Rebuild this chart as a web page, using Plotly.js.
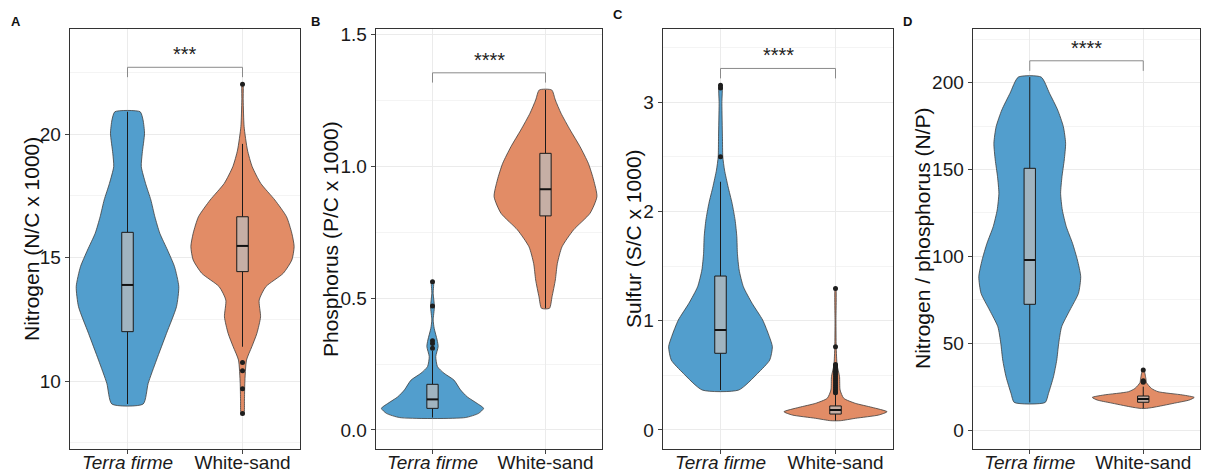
<!DOCTYPE html>
<html><head><meta charset="utf-8">
<script src="https://cdn.plot.ly/plotly-3.0.1.min.js"></script>
<style>html,body{margin:0;padding:0;background:#fff}#chart{width:1208px;height:474px}</style>
</head><body><div id="chart"></div>
<script>
// ---------- data ----------
const categories = ['Terra firme', 'White-sand'];
const tickText = ['<i>Terra firme</i>', 'White-sand'];
const panelLetters = ['A', 'B', 'C', 'D'];
const yTitles = ['Nitrogen (N/C x 1000)', 'Phosphorus (P/C x 1000)', 'Sulfur (S/C x 1000)', 'Nitrogen / phosphorus (N/P)'];
const sigLabels = ['***', '****', '****', '****'];

// violin profiles: value levels (bottom to top) and half-widths (category units)
const nitTF_y = [9.07, 9.91, 10.85, 11.93, 13.01, 13.82, 14.63, 15.30, 15.98, 16.65, 17.33, 18.00, 18.68, 19.22, 20.03, 20.57, 20.90];
const nitTF_w = [0.136, 0.180, 0.252, 0.339, 0.426, 0.446, 0.409, 0.348, 0.281, 0.238, 0.203, 0.157, 0.120, 0.128, 0.148, 0.135, 0.110];
const nitWS_y = [8.69, 9.23, 9.91, 10.85, 11.39, 11.93, 12.60, 13.28, 13.82, 14.36, 14.90, 15.44, 15.98, 16.65, 17.33, 18.00, 18.68, 19.35, 20.30, 21.38, 22.01];
const nitWS_w = [0.012, 0.017, 0.020, 0.035, 0.081, 0.125, 0.157, 0.145, 0.203, 0.354, 0.429, 0.449, 0.429, 0.383, 0.281, 0.159, 0.084, 0.043, 0.014, 0.006, 0.004];

const phoTF_y = [0.047, 0.063, 0.082, 0.101, 0.126, 0.152, 0.189, 0.215, 0.240, 0.278, 0.316, 0.341, 0.385, 0.417, 0.467, 0.518, 0.564];
const phoTF_w = [0.290, 0.408, 0.452, 0.394, 0.306, 0.248, 0.190, 0.102, 0.044, 0.029, 0.050, 0.041, 0.015, 0.006, 0.017, 0.006, 0.009];
const phoWS_y = [0.461, 0.505, 0.568, 0.631, 0.694, 0.758, 0.821, 0.884, 0.947, 1.010, 1.073, 1.136, 1.200, 1.250, 1.288];
const phoWS_w = [0.035, 0.058, 0.087, 0.105, 0.146, 0.248, 0.394, 0.455, 0.426, 0.379, 0.306, 0.219, 0.137, 0.087, 0.055];

const sulTF_y = [0.366, 0.519, 0.640, 0.762, 0.854, 1.006, 1.159, 1.311, 1.464, 1.617, 1.769, 1.921, 2.074, 2.226, 2.379, 2.500, 2.683, 2.989, 3.156];
const sulTF_w = [0.159, 0.324, 0.428, 0.451, 0.425, 0.367, 0.275, 0.199, 0.162, 0.147, 0.142, 0.127, 0.101, 0.066, 0.035, 0.020, 0.017, 0.012, 0.012];
const sulWS_y = [0.085, 0.107, 0.137, 0.167, 0.207, 0.244, 0.290, 0.366, 0.488, 0.595, 0.762, 1.000, 1.296];
const sulWS_w = [0.043, 0.173, 0.376, 0.448, 0.318, 0.173, 0.072, 0.040, 0.035, 0.014, 0.006, 0.004, 0.003];

const npTF_y = [15.9, 21.1, 30.7, 40.3, 49.9, 59.5, 69.1, 78.7, 88.3, 97.9, 107.5, 117.1, 126.7, 136.3, 145.9, 155.5, 165.1, 174.7, 184.3, 193.9, 203.2];
const npTF_w = [0.136, 0.165, 0.209, 0.238, 0.255, 0.281, 0.354, 0.429, 0.449, 0.420, 0.377, 0.322, 0.287, 0.272, 0.284, 0.304, 0.316, 0.296, 0.246, 0.174, 0.101];
const npWS_y = [12.5, 13.4, 15.7, 17.3, 18.8, 20.2, 22.1, 24.0, 27.3, 29.8, 34.6];
const npWS_w = [0.029, 0.116, 0.290, 0.406, 0.449, 0.348, 0.130, 0.072, 0.029, 0.023, 0.006];

// box statistics [Terra firme, White-sand] per panel
const boxQ1 = [[12.00, 14.43], [0.082, 0.811], [0.702, 0.146], [72.4, 16.0]];
const boxMed = [[13.89, 15.47], [0.116, 0.912], [0.915, 0.183], [97.9, 17.9]];
const boxQ3 = [[16.02, 16.65], [0.173, 1.048], [1.409, 0.220], [150.7, 19.6]];
const boxLo = [[9.07, 11.39], [0.047, 0.461], [0.366, 0.085], [15.9, 12.5]];
const boxHi = [[20.90, 19.60], [0.300, 1.288], [2.272, 0.330], [203.2, 25.0]];

// outliers
const nitWS_out = [22.01, 10.75, 10.42, 9.69, 8.69];
const phoTF_out = [0.562, 0.47, 0.338, 0.328, 0.31];
const sulTF_out = [3.156, 3.13, 2.5];
const sulWS_out = [1.296, 0.762, 0.60, 0.585, 0.57, 0.55, 0.53, 0.51, 0.49, 0.47, 0.45, 0.43, 0.41, 0.39, 0.37, 0.35, 0.34];
const npWS_out = [34.6, 28.4, 28.0, 27.6];

// significance brackets
const bracketTop = [22.70, 1.353, 3.309, 212.6];
const bracketEnd = [22.30, 1.316, 3.218, 206.8];

// ---------- layout config ----------
const W = 1208, H = 474, TOP = 29, BOT = 449;
const frames = [[70, 300], [376, 602], [663, 893], [973, 1200]];
const yRanges = [[7.25, 24.25], [-0.072, 1.519], [-0.174, 3.67], [-10.9, 230.9]];
const yDticks = [5, 0.5, 1, 50];
const yFormats = ['d', '.1f', 'd', 'd'];
const titleX = [32, 331, 634, 923];
const letterPos = [[16, 22], [315, 22], [618, 15], [907, 22]];
const F = 'Liberation Sans, Arial, sans-serif';
const BLUE = '#529ecd', ORANGE = '#e28c66';
const BOXFILL = 'rgba(188,188,188,0.74)';
const HALF_BOX = 0.05;

const violins = [
  [[nitTF_y, nitTF_w], [nitWS_y, nitWS_w]],
  [[phoTF_y, phoTF_w], [phoWS_y, phoWS_w]],
  [[sulTF_y, sulTF_w], [sulWS_y, sulWS_w]],
  [[npTF_y, npTF_w], [npWS_y, npWS_w]]
];
const outliers = [
  [[], nitWS_out],
  [phoTF_out, []],
  [sulTF_out, sulWS_out],
  [[], npWS_out]
];

function path(c, ys, ws) {
  const x = [], y = [];
  for (let i = 0; i < ys.length; i++) { x.push(c + ws[i]); y.push(ys[i]); }
  for (let i = ys.length - 1; i >= 0; i--) { x.push(c - ws[i]); y.push(ys[i]); }
  x.push(x[0]); y.push(y[0]);
  return {x, y};
}

const traces = [];
const layout = {
  width: W, height: H, margin: {l: 0, r: 0, t: 0, b: 0},
  paper_bgcolor: '#fff', plot_bgcolor: '#fff', showlegend: false,
  font: {family: F, color: '#222'},
  annotations: []
};

for (let p = 0; p < 4; p++) {
  const s = p === 0 ? '' : String(p + 1);
  const xa = 'x' + s, ya = 'y' + s;
  for (let c = 0; c < 2; c++) {
    const pv = path(c, violins[p][c][0], violins[p][c][1]);
    traces.push({type: 'scatter', mode: 'lines', x: pv.x, y: pv.y, xaxis: xa, yaxis: ya,
      fill: 'toself', fillcolor: c === 0 ? BLUE : ORANGE,
      line: {color: '#3d3d3d', width: 0.8, shape: 'spline', smoothing: 0.6},
      hoverinfo: 'skip', name: categories[c]});
  }
  for (let c = 0; c < 2; c++) {
    traces.push({type: 'scatter', mode: 'lines', x: [c, c, null, c, c],
      y: [boxLo[p][c], boxQ1[p][c], null, boxQ3[p][c], boxHi[p][c]],
      xaxis: xa, yaxis: ya, line: {color: '#1a1a1a', width: 1}, hoverinfo: 'skip'});
    traces.push({type: 'scatter', mode: 'lines',
      x: [c - HALF_BOX, c + HALF_BOX, c + HALF_BOX, c - HALF_BOX, c - HALF_BOX],
      y: [boxQ1[p][c], boxQ1[p][c], boxQ3[p][c], boxQ3[p][c], boxQ1[p][c]],
      xaxis: xa, yaxis: ya, fill: 'toself', fillcolor: BOXFILL,
      line: {color: '#1a1a1a', width: 1}, hoverinfo: 'skip'});
    traces.push({type: 'scatter', mode: 'lines', x: [c - HALF_BOX, c + HALF_BOX], y: [boxMed[p][c], boxMed[p][c]],
      xaxis: xa, yaxis: ya, line: {color: '#111', width: 2}, hoverinfo: 'skip'});
    const o = outliers[p][c];
    if (o.length) traces.push({type: 'scatter', mode: 'markers', x: o.map(() => c), y: o,
      xaxis: xa, yaxis: ya, marker: {color: '#1e1e1e', size: 5}, hoverinfo: 'skip'});
  }
  traces.push({type: 'scatter', mode: 'lines', x: [0, 0, 1, 1],
    y: [bracketEnd[p], bracketTop[p], bracketTop[p], bracketEnd[p]],
    xaxis: xa, yaxis: ya, line: {color: '#8a8a8a', width: 1}, hoverinfo: 'skip'});

  layout['xaxis' + s] = {
    domain: [frames[p][0] / W, frames[p][1] / W], range: [-0.5, 1.5], anchor: ya,
    tickvals: [0, 1], ticktext: tickText, ticks: 'outside', ticklen: 4, tickcolor: '#444',
    ticklabelstandoff: -8,
    showgrid: true, gridcolor: '#ebebeb', zeroline: false,
    showline: true, mirror: true, linecolor: '#333', linewidth: 1.4,
    tickfont: {size: 19, color: '#1a1a1a', family: F}
  };
  layout['yaxis' + s] = {
    domain: [1 - BOT / H, 1 - TOP / H], range: yRanges[p], anchor: xa,
    tick0: 0, dtick: yDticks[p], tickformat: yFormats[p],
    ticks: 'outside', ticklen: 4, tickcolor: '#444',
    showgrid: true, gridcolor: '#ebebeb', zeroline: false,
    minor: {dtick: yDticks[p] / 2, tick0: 0, showgrid: true, gridcolor: '#f4f4f4', ticks: ''},
    showline: true, mirror: true, linecolor: '#333', linewidth: 1.4,
    tickfont: {size: 19, color: '#1a1a1a', family: F}
  };
  layout.annotations.push({xref: 'paper', yref: 'paper', x: titleX[p] / W, y: 1 - ((TOP + BOT) / 2) / H,
    xanchor: 'center', yanchor: 'middle', textangle: -90, showarrow: false,
    text: yTitles[p], font: {size: 21, color: '#111', family: F}});
  layout.annotations.push({xref: 'paper', yref: 'paper', x: letterPos[p][0] / W, y: 1 - letterPos[p][1] / H,
    xanchor: 'center', yanchor: 'middle', showarrow: false,
    text: '<b>' + panelLetters[p] + '</b>', font: {size: 13, color: '#111', family: F}});
  layout.annotations.push({xref: xa, yref: ya, x: 0.5, y: bracketTop[p],
    xanchor: 'center', yanchor: 'bottom', showarrow: false,
    text: sigLabels[p], font: {size: 20, color: '#222', family: F}});
}

Plotly.newPlot('chart', traces, layout, {staticPlot: true, displayModeBar: false});
</script>
</body></html>
